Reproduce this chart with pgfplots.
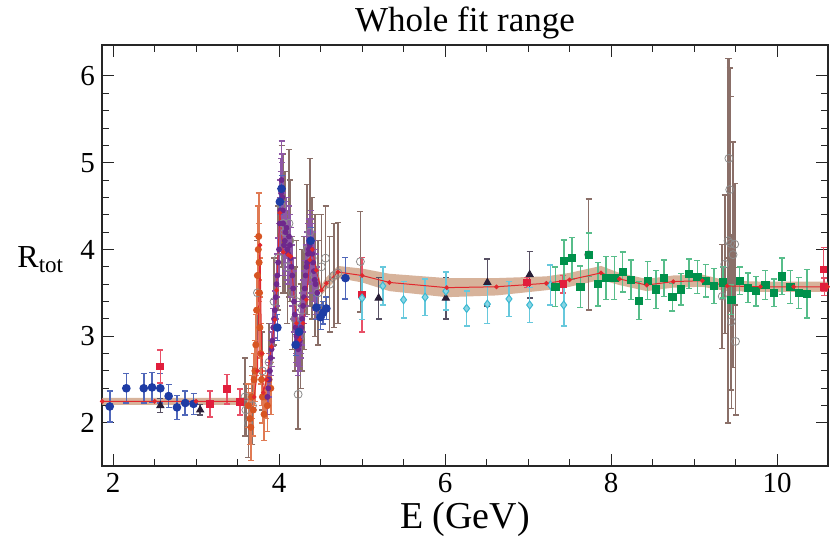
\documentclass[border=0pt]{standalone}
\usepackage{fontspec}
\setmainfont{Liberation Serif}
\usepackage{pgfplots}
\pgfplotsset{compat=1.18}
\definecolor{bandc}{RGB}{205,160,130}
\definecolor{fitred}{RGB}{225,40,45}
\definecolor{cblue}{RGB}{30,60,165}
\definecolor{cred}{RGB}{225,30,60}
\definecolor{cblack}{RGB}{40,30,55}
\definecolor{cbrown}{RGB}{105,70,62}
\definecolor{cpurple}{RGB}{110,40,140}
\definecolor{corange}{RGB}{215,85,35}
\definecolor{ccyan}{RGB}{60,185,210}
\definecolor{cgreen}{RGB}{0,145,75}
\definecolor{cgreenbar}{RGB}{40,170,105}
\pgfplotsset{
  dat/.style n args={3}{only marks, solid, mark=#2, color=#1,
    mark options={solid, fill=#3, draw=#1, line width=0.5pt},
    error bars/.cd, y dir=both, y explicit, error mark=-,
    error bar style={solid, line width=0.8pt, color=#1!78!white},
    error mark options={solid, rotate=90, line width=0.7pt, mark size=1.5pt, color=#1!78!white},
    /pgfplots/.cd},
}
\begin{document}
\begin{tikzpicture}
\useasboundingbox (-51pt,-37pt) rectangle (364pt,233pt);
\begin{axis}[
  scale only axis, width=363pt, height=210.5pt,
  xmin=1.867, xmax=10.614, ymin=1.504, ymax=6.357,
  xtick={2,4,6,8,10}, ytick={2,3,4,5,6},
  minor x tick num=3, minor y tick num=4,
  tick align=inside,
  major tick length=6pt, minor tick length=3.5pt,
  axis line style={line width=0.6pt, black!85},
  every tick/.style={black!85, line width=0.5pt},
  tick label style={font=\fontsize{14.5}{16}\selectfont},
  /pgf/number format/assume math mode=true,
  title={Whole fit range},
  title style={font=\fontsize{17.5}{20}\selectfont, yshift=-6.5pt},
  xlabel={E (GeV)},
  xlabel style={font=\fontsize{19}{22}\selectfont, yshift=2pt},
  ylabel={R\raisebox{-0.35ex}{\fontsize{11.5}{12}\selectfont tot}},
  ylabel style={font=\fontsize{16}{18}\selectfont, rotate=-90, at={(axis description cs:-0.085,0.49)}, anchor=center},
  clip=true,
]
% fit band (upper edge forward, lower edge back)
\addplot[fill=bandc, draw=none, fill opacity=0.8, forget plot] table[row sep=\\] {
1.87 2.29\\ 2.5 2.29\\ 3.0 2.29\\ 3.55 2.29\\ 3.70 2.35\\ 3.74 2.65\\ 3.77 4.10\\ 3.79 2.85\\ 3.81 2.40\\ 3.85 2.55\\ 3.91 2.93\\ 3.95 3.24\\ 3.97 3.58\\ 4.01 4.47\\ 4.05 4.02\\ 4.11 3.99\\ 4.14 3.97\\ 4.21 3.20\\ 4.25 3.01\\ 4.29 3.20\\ 4.33 3.47\\ 4.37 3.93\\ 4.40 4.05\\ 4.45 3.82\\ 4.51 3.59\\ 4.57 3.68\\ 4.71 3.81\\ 5.00 3.78\\ 5.33 3.72\\ 6.02 3.67\\ 6.62 3.67\\ 7.22 3.69\\ 7.50 3.73\\ 7.88 3.81\\ 8.10 3.73\\ 8.43 3.66\\ 8.75 3.70\\ 9.10 3.71\\ 9.40 3.64\\ 9.80 3.63\\ 10.20 3.63\\ 10.61 3.63\\
10.61 3.51\\ 10.20 3.51\\ 9.80 3.51\\ 9.40 3.52\\ 9.10 3.57\\ 8.75 3.56\\ 8.43 3.52\\ 8.10 3.59\\ 7.88 3.65\\ 7.50 3.57\\ 7.22 3.53\\ 6.62 3.47\\ 6.02 3.45\\ 5.33 3.52\\ 5.00 3.62\\ 4.71 3.67\\ 4.57 3.54\\ 4.51 3.47\\ 4.45 3.70\\ 4.40 3.95\\ 4.37 3.83\\ 4.33 3.37\\ 4.29 3.10\\ 4.25 2.91\\ 4.21 3.10\\ 4.14 3.87\\ 4.11 3.89\\ 4.05 3.92\\ 4.01 4.37\\ 3.97 3.48\\ 3.95 3.14\\ 3.91 2.83\\ 3.85 2.45\\ 3.81 2.30\\ 3.79 2.75\\ 3.77 4.00\\ 3.74 2.55\\ 3.70 2.25\\ 3.55 2.21\\ 3.0 2.21\\ 2.5 2.21\\ 1.87 2.21\\
};
% brown open circles
\addplot[dat={cbrown}{o}{white}, mark options={draw=black!45, fill=none}] table[row sep=\\, x index=0, y index=1, y error index=2] {
3.59 2.30 0.45\\ 3.60 2.15 0.30\\ 3.63 2.00 0.40\\ 3.68 2.20 0.45\\ 3.74 3.50 0.60\\ 3.80 2.60 0.45\\ 3.88 2.70 0.45\\ 3.94 3.40 0.50\\ 3.99 3.90 0.60\\ 4.03 4.50 0.70\\ 4.05 4.30 0.80\\ 4.07 4.20 0.70\\ 4.10 3.80 0.65\\ 4.12 4.30 0.85\\ 4.13 4.10 0.70\\ 4.16 3.50 0.65\\ 4.19 3.20 0.60\\ 4.21 3.40 0.70\\ 4.23 2.33 0.40\\ 4.26 3.00 0.60\\ 4.28 3.30 0.70\\ 4.30 3.50 0.65\\ 4.34 4.00 0.75\\ 4.37 4.20 0.85\\ 4.40 3.90 0.70\\ 4.43 3.70 0.70\\ 4.47 3.50 0.60\\ 4.51 3.80 0.60\\ 4.56 3.90 0.60\\ 4.61 3.60 0.55\\ 4.66 3.70 0.60\\ 4.71 3.73 0.58\\ 4.98 3.86 0.58\\ 7.73 3.94 0.64\\
9.34 3.46 0.60\\ 9.37 3.83 0.80\\ 9.41 4.10 2.10\\ 9.42 5.05 1.15\\ 9.43 4.69 1.40\\ 9.44 4.07 1.69\\ 9.45 3.17 1.00\\ 9.47 3.94 1.30\\ 9.49 4.06 0.70\\ 9.50 2.94 0.85\\
};
% orange
\addplot[dat={corange}{*}{corange}, mark size=1.5pt] table[row sep=\\, x index=0, y index=1, y error index=2] {
3.63 2.20 0.25\\ 3.65 2.05 0.30\\ 3.66 1.95 0.38\\ 3.67 2.30 0.25\\ 3.69 2.15 0.30\\ 3.70 2.50 0.30\\ 3.71 2.60 0.35\\ 3.72 2.90 0.35\\ 3.73 3.30 0.40\\ 3.74 3.70 0.45\\ 3.75 4.00 0.50\\ 3.755 4.15 0.50\\ 3.76 3.85 0.45\\ 3.765 3.50 0.40\\ 3.77 3.10 0.35\\ 3.78 2.80 0.35\\ 3.79 2.50 0.30\\ 3.80 2.30 0.30\\ 3.82 2.10 0.30\\ 3.84 2.30 0.25\\ 3.86 2.20 0.30\\ 3.88 2.50 0.30\\ 3.90 2.40 0.30\\
};
% purple
\addplot[dat={cpurple}{*}{cpurple}, mark size=1.2pt] table[row sep=\\, x index=0, y index=1, y error index=2] {
3.86 2.30 0.20\\ 3.87 2.40 0.20\\ 3.88 2.50 0.20\\ 3.89 2.60 0.20\\ 3.90 2.75 0.20\\ 3.91 2.85 0.20\\ 3.92 2.95 0.20\\ 3.93 3.10 0.22\\ 3.94 3.20 0.22\\ 3.95 3.30 0.22\\ 3.96 3.45 0.25\\ 3.97 3.60 0.25\\ 3.98 3.70 0.25\\ 3.99 3.85 0.28\\ 4.00 4.00 0.30\\ 4.01 4.30 0.30\\ 4.015 4.45 0.35\\ 4.02 4.55 0.35\\ 4.025 4.65 0.40\\ 4.03 4.80 0.45\\ 4.035 4.70 0.40\\ 4.04 4.60 0.40\\ 4.045 4.45 0.40\\ 4.05 4.30 0.35\\ 4.06 4.05 0.35\\ 4.07 4.10 0.35\\ 4.08 4.20 0.35\\ 4.09 4.25 0.35\\ 4.10 4.00 0.35\\ 4.11 3.95 0.35\\ 4.12 4.15 0.35\\ 4.13 4.05 0.35\\ 4.14 3.90 0.35\\ 4.15 3.80 0.35\\ 4.16 3.70 0.35\\ 4.17 3.55 0.35\\ 4.18 3.40 0.35\\ 4.19 3.25 0.32\\ 4.20 3.10 0.30\\ 4.21 3.00 0.30\\ 4.22 2.95 0.30\\ 4.23 2.85 0.30\\ 4.24 2.90 0.30\\ 4.25 2.95 0.30\\ 4.26 3.05 0.30\\ 4.27 3.10 0.30\\ 4.28 3.20 0.30\\ 4.29 3.35 0.30\\ 4.30 3.45 0.30\\ 4.31 3.55 0.32\\ 4.32 3.70 0.35\\ 4.33 3.80 0.35\\ 4.34 3.85 0.35\\ 4.35 3.95 0.35\\ 4.36 4.00 0.35\\ 4.37 4.05 0.35\\ 4.38 4.10 0.35\\ 4.39 4.00 0.35\\ 4.40 3.95 0.35\\ 4.41 3.85 0.35\\ 4.42 3.75 0.35\\ 4.43 3.65 0.35\\ 4.44 3.60 0.35\\ 4.46 3.50 0.30\\
};
% black triangles
\addplot[dat={cblack}{triangle*}{cblack}, mark size=2pt] table[row sep=\\, x index=0, y index=1, y error index=2] {
2.57 2.20 0.08\\ 3.05 2.15 0.06\\ 5.20 3.44 0.24\\ 6.01 3.44 0.24\\ 6.51 3.62 0.27\\ 7.02 3.71 0.27\\
};
% blue circles
\addplot[dat={cblue}{*}{cblue}, mark size=1.9pt] table[row sep=\\, x index=0, y index=1, y error index=2] {
1.96 2.19 0.18\\ 2.16 2.40 0.17\\ 2.37 2.40 0.17\\ 2.47 2.41 0.17\\ 2.57 2.40 0.17\\ 2.67 2.31 0.13\\ 2.77 2.18 0.14\\ 2.87 2.23 0.14\\ 2.97 2.22 0.12\\
3.98 3.10 0.15\\ 4.01 4.55 0.15\\ 4.03 4.70 0.15\\ 4.20 2.90 0.12\\ 4.24 3.05 0.12\\ 4.38 4.10 0.15\\ 4.45 3.33 0.14\\ 4.50 3.22 0.14\\ 4.53 3.27 0.13\\ 4.57 3.32 0.13\\ 4.80 3.67 0.24\\
};
% red squares
\addplot[dat={cred}{square*}{cred}, mark size=1.7pt] table[row sep=\\, x index=0, y index=1, y error index=2] {
2.57 2.65 0.19\\ 3.17 2.22 0.15\\ 3.37 2.39 0.17\\ 3.53 2.24 0.15\\ 5.00 3.48 0.43\\ 6.99 3.62 0.06\\ 7.42 3.60 0.10\\ 10.56 3.77 0.25\\ 10.57 3.57 0.10\\
};
% cyan diamonds
\addplot[dat={ccyan}{diamond*}{ccyan!60}, mark size=2pt] table[row sep=\\, x index=0, y index=1, y error index=2] {
5.00 3.44 0.25\\ 5.25 3.58 0.22\\ 5.50 3.42 0.21\\ 5.76 3.45 0.21\\ 6.01 3.52 0.22\\ 6.26 3.32 0.20\\ 6.51 3.37 0.22\\ 6.77 3.43 0.20\\ 7.02 3.36 0.20\\ 7.27 3.59 0.23\\ 7.43 3.36 0.24\\
};
% green squares
\addplot[dat={cgreenbar}{square*}{cgreen}, mark options={draw=cgreen, fill=cgreen}, mark size=1.8pt] table[row sep=\\, x index=0, y index=1, y error index=2] {
7.33 3.57 0.23\\ 7.43 3.87 0.24\\ 7.53 3.90 0.24\\ 7.63 3.57 0.24\\ 7.73 3.94 0.25\\ 7.84 3.60 0.25\\ 7.94 3.67 0.25\\ 8.04 3.67 0.25\\ 8.14 3.74 0.23\\ 8.24 3.65 0.23\\ 8.34 3.41 0.22\\ 8.44 3.64 0.22\\ 8.54 3.54 0.22\\ 8.64 3.67 0.21\\ 8.74 3.45 0.16\\ 8.84 3.54 0.18\\ 8.94 3.72 0.17\\ 9.04 3.68 0.19\\ 9.14 3.64 0.19\\ 9.24 3.58 0.20\\ 9.35 3.62 0.18\\ 9.45 3.42 0.17\\ 9.55 3.64 0.16\\ 9.65 3.56 0.17\\ 9.75 3.52 0.17\\ 9.86 3.59 0.17\\ 9.96 3.50 0.16\\ 10.06 3.69 0.21\\ 10.16 3.57 0.19\\ 10.26 3.50 0.18\\ 10.36 3.49 0.28\\
};
% fit line
\addplot[fitred, line width=0.5pt, mark=*, mark size=0.9pt, mark options={fill=fitred, draw=fitred}] table[row sep=\\] {
1.87 2.25\\ 2.5 2.25\\ 3.0 2.25\\ 3.55 2.25\\ 3.70 2.30\\ 3.74 2.60\\ 3.77 4.05\\ 3.79 2.80\\ 3.81 2.35\\ 3.85 2.50\\ 3.91 2.88\\ 3.95 3.19\\ 3.97 3.53\\ 4.01 4.42\\ 4.05 3.97\\ 4.11 3.94\\ 4.14 3.92\\ 4.21 3.15\\ 4.25 2.96\\ 4.29 3.15\\ 4.33 3.42\\ 4.37 3.88\\ 4.40 4.00\\ 4.45 3.76\\ 4.51 3.53\\ 4.57 3.61\\ 4.71 3.74\\ 5.00 3.70\\ 5.33 3.62\\ 6.02 3.56\\ 6.62 3.57\\ 7.22 3.61\\ 7.50 3.65\\ 7.88 3.73\\ 8.10 3.66\\ 8.43 3.59\\ 8.75 3.63\\ 9.10 3.64\\ 9.40 3.58\\ 9.80 3.57\\ 10.20 3.57\\ 10.61 3.57\\
};
\end{axis}
\end{tikzpicture}
\end{document}
